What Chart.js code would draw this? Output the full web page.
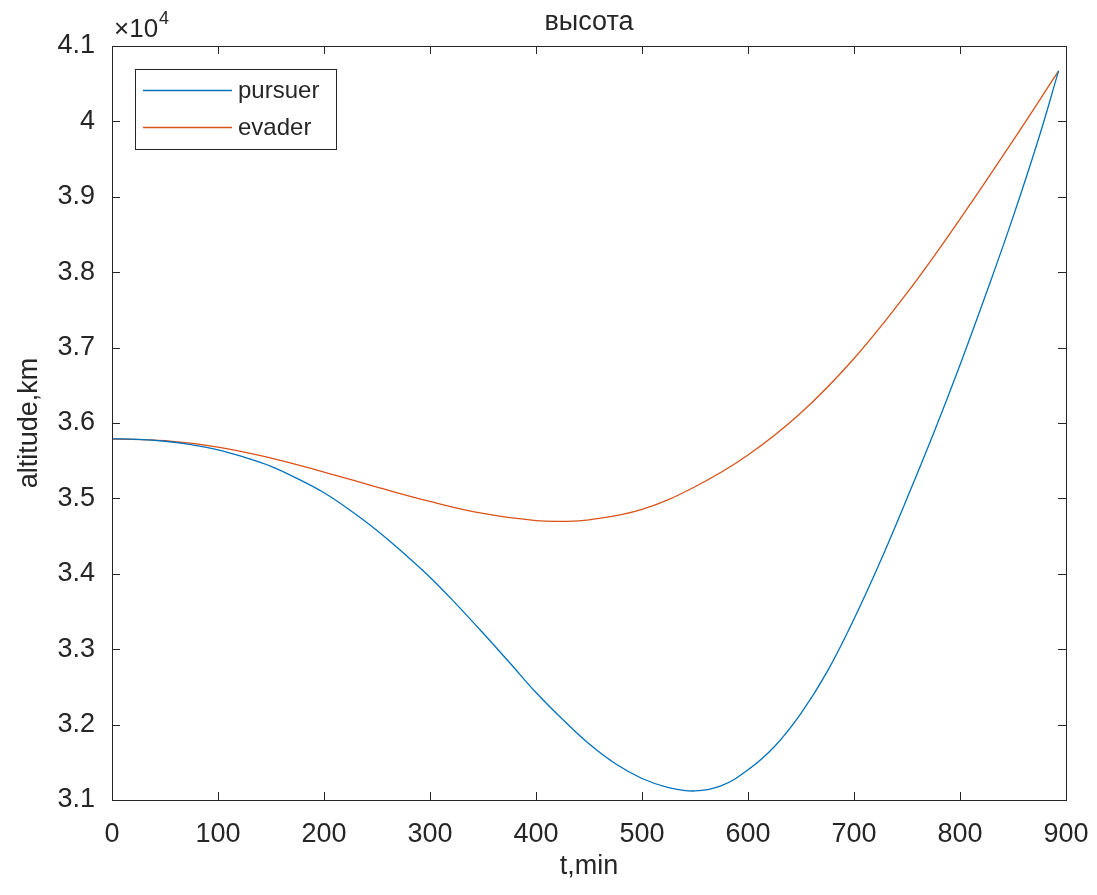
<!DOCTYPE html>
<html>
<head>
<meta charset="utf-8">
<script src="https://cdn.jsdelivr.net/npm/chart.js@4/dist/chart.umd.min.js"></script>
<style>
  html, body { margin: 0; padding: 0; background: #fff; }
  #wrap { width: 1097px; height: 895px; }
</style>
</head>
<body>
<div id="wrap"><canvas id="chart" width="1097" height="895"></canvas></div>
<script>
// time, minutes
var timeP = [0, 25, 50, 75, 100, 125, 150, 175, 200, 225, 250, 275, 300, 325, 350, 375, 400, 425, 450, 475, 500, 525, 550, 575, 600, 625, 650, 675, 700, 725, 750, 775, 800, 825, 850, 875, 893];
var timeE = [0, 50, 100, 150, 200, 250, 300, 350, 400, 425, 450, 500, 550, 600, 650, 700, 750, 800, 850, 893];
// altitude, km
var pursuer = [35790, 35784, 35758, 35712, 35645, 35545, 35425, 35262, 35075, 34840, 34575, 34275, 33955, 33595, 33215, 32823, 32425, 32070, 31745, 31480, 31285, 31165, 31120, 31190, 31400, 31710, 32150, 32710, 33400, 34170, 35000, 35860, 36770, 37730, 38730, 39810, 40670];
var evader  = [35790, 35765, 35680, 35535, 35350, 35150, 34960, 34800, 34705, 34695, 34715, 34855, 35155, 35575, 36135, 36855, 37725, 38705, 39745, 40670];

var seriesNames = ['pursuer', 'evader'];
var seriesColors = ['#0072BD', '#D95319'];
var xTicks = [0, 100, 200, 300, 400, 500, 600, 700, 800, 900];
var yTicks = [31000, 32000, 33000, 34000, 35000, 36000, 37000, 38000, 39000, 40000, 41000];

var FONT = "'Liberation Sans', Arial, Helvetica, sans-serif";
var INK = '#262626';

function toPoints(xs, ys) {
    var pts = [];
    for (var i = 0; i < xs.length; i++) pts.push({x: xs[i], y: ys[i]});
    return pts;
}

// MATLAB-like box, inward ticks, title, exponent and legend
var matlabAxes = {
    id: 'matlabAxes',
    afterDraw: function(chart) {
        var ctx = chart.ctx;
        var a = chart.chartArea;
        var xs = chart.scales.x, ys = chart.scales.y;
        var tl = 8;
        ctx.save();
        ctx.strokeStyle = INK;
        ctx.lineWidth = 1;
        ctx.strokeRect(Math.round(a.left) + 0.5, Math.round(a.top) + 0.5,
                       Math.round(a.right - a.left), Math.round(a.bottom - a.top));
        ctx.beginPath();
        xTicks.forEach(function(v) {
            var px = Math.round(xs.getPixelForValue(v)) + 0.5;
            ctx.moveTo(px, a.bottom); ctx.lineTo(px, a.bottom - tl);
            ctx.moveTo(px, a.top); ctx.lineTo(px, a.top + tl);
        });
        yTicks.forEach(function(v) {
            var py = Math.round(ys.getPixelForValue(v)) + 0.5;
            ctx.moveTo(a.left, py); ctx.lineTo(a.left + tl, py);
            ctx.moveTo(a.right, py); ctx.lineTo(a.right - tl, py);
        });
        ctx.stroke();

        // title
        ctx.fillStyle = INK;
        ctx.textAlign = 'center';
        ctx.textBaseline = 'alphabetic';
        ctx.font = '27px ' + FONT;
        ctx.fillText('высота', (a.left + a.right) / 2, 30);

        // exponent x10^4
        ctx.textAlign = 'left';
        ctx.font = '26px ' + FONT;
        ctx.fillText('\u00d710', a.left + 2, 37);
        var w = ctx.measureText('\u00d710').width;
        ctx.font = '18px ' + FONT;
        ctx.fillText('4', a.left + 2 + w + 1, 24);

        // legend
        var lx = 135, ly = 69, lw = 201, lh = 80;
        ctx.fillStyle = '#fff';
        ctx.fillRect(lx, ly, lw, lh);
        ctx.strokeStyle = INK;
        ctx.strokeRect(lx + 0.5, ly + 0.5, lw, lh);
        var rows = [90, 127];
        ctx.font = '24px ' + FONT;
        ctx.textBaseline = 'middle';
        chart.data.datasets.forEach(function(ds, i) {
            ctx.strokeStyle = ds.borderColor;
            ctx.lineWidth = 1.3;
            ctx.beginPath();
            ctx.moveTo(143, rows[i] + 0.5);
            ctx.lineTo(232, rows[i] + 0.5);
            ctx.stroke();
            ctx.fillStyle = INK;
            ctx.fillText(ds.label, 238, rows[i] + 1);
        });
        ctx.restore();
    }
};

var datasets = [
    {label: seriesNames[0], data: toPoints(timeP, pursuer), borderColor: seriesColors[0]},
    {label: seriesNames[1], data: toPoints(timeE, evader), borderColor: seriesColors[1]}
];
datasets.forEach(function(ds) {
    ds.showLine = true;
    ds.pointRadius = 0;
    ds.borderWidth = 1.3;
    ds.tension = 0.4;
    ds.fill = false;
});

new Chart(document.getElementById('chart'), {
    type: 'scatter',
    data: {datasets: datasets},
    options: {
        responsive: false,
        animation: false,
        events: [],
        layout: {padding: {top: 46, right: 31, bottom: 0, left: 0}},
        plugins: {
            legend: {display: false},
            title: {display: false},
            tooltip: {enabled: false}
        },
        scales: {
            x: {
                type: 'linear',
                min: 0, max: 900,
                afterFit: function(scale) {
                    scale.height = 95;
                    scale.paddingLeft = 0;
                    scale.paddingRight = 0;
                },
                afterBuildTicks: function(scale) {
                    scale.ticks = xTicks.map(function(v) { return {value: v}; });
                },
                grid: {display: false, drawTicks: false},
                border: {display: false},
                ticks: {color: INK, font: {family: FONT, size: 27}, padding: 18, maxRotation: 0},
                title: {display: true, text: 't,min', color: INK, font: {family: FONT, size: 27},
                        padding: {top: 0, bottom: 12}}
            },
            y: {
                type: 'linear',
                min: 31000, max: 41000,
                afterFit: function(scale) {
                    scale.width = 112;
                    scale.paddingTop = 0;
                    scale.paddingBottom = 0;
                },
                afterBuildTicks: function(scale) {
                    scale.ticks = yTicks.map(function(v) { return {value: v}; });
                },
                grid: {display: false, drawTicks: false},
                border: {display: false},
                ticks: {
                    color: INK, font: {family: FONT, size: 27}, padding: 17,
                    callback: function(v) { return String(Number((v / 10000).toFixed(1))); }
                },
                title: {display: true, text: 'altitude,km', color: INK, font: {family: FONT, size: 27},
                        padding: {top: 13, bottom: 0}}
            }
        }
    },
    plugins: [matlabAxes]
});
</script>
</body>
</html>
